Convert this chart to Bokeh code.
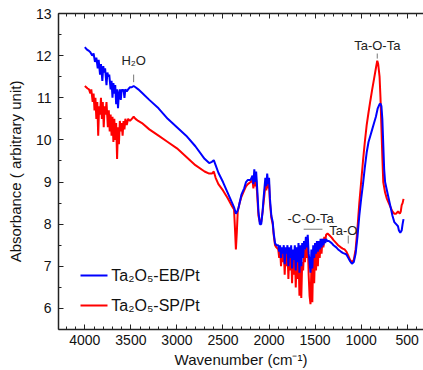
from bokeh.plotting import figure
from bokeh.models import Range1d, LinearAxis, SingleIntervalTicker
from bokeh.core.properties import value
from bokeh.embed import file_html
from bokeh.resources import INLINE

# ---------------- data ----------------
eb_wn = [4000, 3980, 3960, 3940, 3920, 3905, 3890, 3875, 3860, 3850, 3835, 3825, 3810, 3800,
         3790, 3780, 3765, 3755, 3745, 3735, 3720, 3710, 3700, 3690, 3680, 3670, 3660, 3650,
         3640, 3630, 3620, 3610, 3600, 3590, 3580, 3570, 3560, 3545, 3530, 3510, 3490, 3470,
         3450, 3420, 3380, 3300, 3200, 3100, 3000, 2900, 2800, 2700, 2650, 2620, 2600, 2580,
         2550, 2500, 2450, 2400, 2380, 2360, 2345, 2330, 2300, 2270, 2250, 2230, 2200, 2180,
         2170, 2160, 2150, 2140, 2130, 2115, 2100, 2085, 2070, 2060, 2050, 2040, 2030, 2020,
         2010, 2000, 1990, 1975, 1960, 1950, 1935, 1920,
         1900, 1890, 1880, 1870, 1860, 1850, 1840, 1830, 1820, 1810, 1800, 1790, 1780, 1770,
         1760, 1750, 1740, 1730, 1720, 1710, 1700, 1690, 1680, 1670, 1660, 1650, 1640, 1630,
         1620, 1610, 1600, 1590, 1580, 1570, 1560, 1550, 1540, 1530, 1520, 1510, 1500, 1490,
         1480, 1470, 1460, 1450, 1440, 1430, 1420, 1410, 1400, 1390, 1380, 1370, 1350, 1320,
         1300, 1270, 1250, 1220, 1200, 1180, 1160, 1140, 1120, 1100, 1080, 1060, 1040, 1020,
         1000, 980, 960, 940, 920, 900, 880, 860, 840, 820, 800, 790, 780, 770, 760, 750, 740,
         720, 700, 680, 660, 640, 620, 600, 590, 575, 560, 550, 540]
eb_abs = [12.20, 12.15, 12.12, 12.08, 12.00, 12.05, 11.85, 11.95, 11.70, 11.90, 11.55, 11.80,
          11.40, 11.75, 11.60, 11.70, 11.30, 11.60, 11.50, 11.55, 11.20, 11.40, 11.00, 11.35,
          11.10, 11.30, 10.85, 11.20, 10.75, 11.10, 11.20, 10.95, 11.20, 11.15, 11.20, 11.00,
          11.20, 11.15, 11.20, 11.25, 11.25, 11.28, 11.25, 11.20, 11.12, 10.95, 10.75, 10.50,
          10.30, 10.10, 9.85, 9.55, 9.45, 9.48, 9.52, 9.40, 9.22, 9.00, 8.75, 8.50, 8.40, 8.25,
          8.30, 8.40, 8.70, 8.85, 9.00, 9.05, 9.05, 9.15, 8.95, 9.30, 9.00, 9.25, 8.90, 8.30,
          8.00, 8.00, 8.30, 8.60, 8.85, 9.10, 8.90, 9.20, 8.95, 9.10, 8.60, 8.20, 8.05, 7.80,
          7.55, 7.50,
          7.50, 7.35, 7.50, 7.20, 7.45, 7.30, 7.50, 7.05, 7.45, 7.30, 7.50, 7.00, 7.45, 7.20,
          7.50, 6.95, 7.40, 7.15, 7.50, 6.90, 7.45, 7.10, 7.55, 6.85, 7.50, 7.00, 7.55, 7.20,
          7.60, 7.40, 7.70, 7.45, 7.75, 7.30, 7.10, 6.85, 7.40, 6.95, 7.50, 7.20, 7.55, 7.30,
          7.60, 7.35, 7.60, 7.40, 7.65, 7.45, 7.65, 7.50, 7.65, 7.55, 7.65, 7.60, 7.60, 7.55,
          7.50, 7.45, 7.40, 7.35, 7.32, 7.30, 7.28, 7.20, 7.12, 7.06, 7.10, 7.30, 7.70, 8.20,
          8.60, 8.95, 9.35, 9.70, 9.95, 10.10, 10.25, 10.40, 10.55, 10.75, 10.85, 10.86, 10.80,
          10.50, 9.90, 9.30, 9.00, 8.80, 8.60, 8.40, 8.20, 8.05, 8.00, 7.95, 7.85, 7.80, 7.85,
          8.00, 8.12]

sp_wn = [4000, 3985, 3970, 3955, 3940, 3930, 3915, 3905, 3895, 3885, 3875, 3865, 3855, 3845,
         3835, 3825, 3815, 3805, 3795, 3785, 3775, 3765, 3750, 3740, 3730, 3720, 3710, 3700,
         3690, 3680, 3670, 3660, 3650, 3640, 3630, 3620, 3610, 3600, 3590, 3580, 3570, 3560,
         3545, 3530, 3510, 3490, 3470, 3450, 3420, 3380, 3300, 3200, 3100, 3000, 2900, 2800,
         2700, 2650, 2620, 2600, 2580, 2550, 2500, 2450, 2400, 2380, 2370, 2360, 2350, 2340,
         2320, 2300, 2270, 2250, 2230, 2200, 2180, 2170, 2160, 2150, 2140, 2130, 2115, 2100,
         2085, 2070, 2060, 2050, 2040, 2030, 2020, 2010, 2000, 1990, 1975, 1960, 1950, 1935,
         1920,
         1900, 1890, 1880, 1870, 1860, 1850, 1840, 1830, 1820, 1810, 1800, 1790, 1780, 1770,
         1760, 1750, 1740, 1730, 1720, 1710, 1700, 1690, 1680, 1670, 1660, 1650, 1640, 1630,
         1620, 1610, 1600, 1590, 1580, 1570, 1560, 1550, 1540, 1530, 1520, 1510, 1500, 1490,
         1480, 1470, 1460, 1450, 1440, 1430, 1420, 1410, 1400, 1390, 1380, 1365, 1350, 1320,
         1300, 1270, 1250, 1220, 1200, 1180, 1160, 1140, 1120, 1100, 1080, 1060, 1040, 1020,
         1000, 980, 960, 940, 920, 900, 880, 860, 840, 825, 815, 800, 790, 780, 770, 760, 740,
         720, 700, 680, 660, 640, 620, 600, 580, 570, 560, 550, 540]
sp_abs = [11.28, 11.25, 11.22, 11.20, 11.10, 11.20, 10.90, 11.10, 10.70, 11.00, 10.50, 10.90,
          10.10, 10.80, 10.60, 11.00, 10.50, 10.90, 10.30, 10.80, 10.60, 10.90, 10.30, 10.70,
          10.20, 10.60, 10.10, 10.55, 9.95, 10.50, 10.00, 10.40, 9.55, 10.30, 9.90, 10.45,
          10.20, 10.40, 10.10, 10.45, 10.25, 10.50, 10.35, 10.50, 10.45, 10.50, 10.55, 10.50,
          10.45, 10.40, 10.25, 10.10, 9.95, 9.80, 9.60, 9.40, 9.25, 9.20, 9.20, 9.25, 9.10,
          8.95, 8.80, 8.62, 8.42, 8.35, 7.90, 7.40, 7.80, 8.30, 8.50, 8.65, 8.80, 8.90, 8.95,
          9.00, 9.05, 8.85, 9.10, 8.90, 9.05, 8.75, 8.20, 8.05, 8.05, 8.30, 8.50, 8.70, 8.95,
          8.80, 9.00, 8.85, 8.95, 8.50, 8.15, 8.00, 7.75, 7.50, 7.45,
          7.40, 7.20, 7.45, 7.00, 7.40, 7.10, 7.40, 6.80, 7.35, 7.00, 7.40, 6.70, 7.30, 6.90,
          7.35, 6.60, 7.30, 6.80, 7.35, 6.50, 7.20, 6.70, 7.30, 6.30, 7.20, 6.25, 7.10, 6.90,
          7.40, 7.10, 7.55, 7.20, 7.65, 6.80, 6.30, 6.10, 7.00, 6.15, 7.30, 6.60, 7.40, 6.90,
          7.50, 7.00, 7.55, 7.20, 7.60, 7.30, 7.65, 7.45, 7.70, 7.60, 7.75, 7.78, 7.75, 7.68,
          7.62, 7.55, 7.50, 7.45, 7.42, 7.40, 7.35, 7.25, 7.15, 7.10, 7.15, 7.40, 7.90, 8.50,
          9.00, 9.50, 9.95, 10.35, 10.65, 10.93, 11.20, 11.45, 11.70, 11.88, 11.80, 11.50,
          11.00, 10.30, 9.60, 9.00, 8.75, 8.60, 8.50, 8.40, 8.30, 8.25, 8.25, 8.30, 8.25, 8.30,
          8.45, 8.50, 8.60]

series_names = ["Ta\u2082O\u2085-EB/Pt", "Ta\u2082O\u2085-SP/Pt"]
series_colors = ["#0000ff", "#ff0000"]

annot_texts = ["H\u2082O", "Ta-O-Ta", "-C-O-Ta", "Ta-O"]
annot_x = [3470, 825, 1549, 1194]
annot_y = [11.88, 12.24, 8.14, 7.85]

FONT = "Liberation Sans"

p = figure(width=423, height=370, output_backend="svg", toolbar_location=None,
           x_range=Range1d(4286, 323), y_range=Range1d(5.5, 13.0),
           min_border_left=58, min_border_right=0, min_border_top=13, min_border_bottom=40)
p.outline_line_color = None
p.grid.visible = False
p.background_fill_color = "white"
p.border_fill_color = "white"

# curves (red first, blue on top)
p.line(sp_wn, sp_abs, line_color=series_colors[1], line_width=2)
p.line(eb_wn, eb_abs, line_color=series_colors[0], line_width=2)

# annotations
p.text(x=annot_x, y=annot_y, text=annot_texts, text_font=value(FONT),
       text_font_size="13px", text_align="center", text_baseline="middle",
       text_color="#222222")
p.segment(x0=[3470, 825, 1624, 1140], y0=[11.55, 12.05, 7.88, 7.73],
          x1=[3470, 825, 1420, 1140], y1=[11.37, 11.93, 7.88, 7.54],
          line_color="#777777", line_width=1)

# legend (manual)
p.segment(x0=[4047, 4047], y0=[6.78, 6.07], x1=[3754, 3754], y1=[6.78, 6.07],
          line_color=series_colors, line_width=2)
p.text(x=[3712, 3712], y=[6.78, 6.07], text=series_names, text_font=value(FONT),
       text_font_size="16px", text_align="left", text_baseline="middle",
       text_color="#111111")

# axes styling
p.xaxis.ticker = SingleIntervalTicker(interval=500, num_minor_ticks=5)
p.yaxis.ticker = SingleIntervalTicker(interval=1, num_minor_ticks=2)
for ax in [p.xaxis[0], p.yaxis[0]]:
    ax.major_tick_in = 5
    ax.major_tick_out = 0
    ax.minor_tick_in = 3
    ax.minor_tick_out = 0
    ax.axis_line_color = "#222222"
    ax.axis_line_width = 1.5
    ax.major_tick_line_color = "#222222"
    ax.minor_tick_line_color = "#222222"
    ax.major_label_text_font = FONT
    ax.major_label_text_font_size = "14px"
    ax.major_label_text_color = "#111111"
    ax.axis_label_text_font = FONT
    ax.axis_label_text_font_style = "normal"
    ax.axis_label_text_font_size = "15px"
    ax.axis_label_text_color = "#111111"

p.xaxis.axis_label = "Wavenumber (cm\u207b\u00b9)"
p.yaxis.axis_label = "Absorbance ( arbitrary unit)"
p.xaxis.major_label_standoff = 5
p.xaxis.axis_label_standoff = 3
p.yaxis.major_label_standoff = 7
p.yaxis.axis_label_standoff = 9

top = LinearAxis(ticker=SingleIntervalTicker(interval=500, num_minor_ticks=5))
top.major_tick_in = 5
top.major_tick_out = 0
top.minor_tick_in = 3
top.minor_tick_out = 0
top.axis_line_color = "#222222"
top.axis_line_width = 1.5
top.major_tick_line_color = "#222222"
top.minor_tick_line_color = "#222222"
top.major_label_text_font_size = "0px"
top.major_label_text_color = None
top.major_label_standoff = 0
p.add_layout(top, "above")

open("out.html", "w").write(file_html(p, INLINE))
